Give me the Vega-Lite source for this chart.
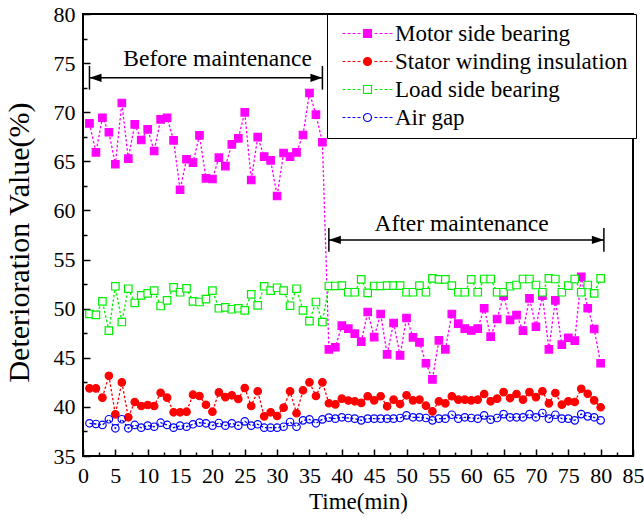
{
"$schema":"https://vega.github.io/schema/vega-lite/v6.json",
"width":550,"height":442,
"autosize":{"type":"none"},
"padding":{"left":83,"top":14,"right":11,"bottom":69},
"background":"white",
"config":{"view":{"stroke":"black","strokeWidth":2},"font":"Liberation Serif"},
"datasets":{
"series":[
{"t":1,"s":"Motor side bearing","v":68.87},{"t":2,"s":"Motor side bearing","v":65.92},{"t":3,"s":"Motor side bearing","v":69.44},{"t":4,"s":"Motor side bearing","v":67.96},{"t":5,"s":"Motor side bearing","v":64.70},{"t":6,"s":"Motor side bearing","v":70.94},{"t":7,"s":"Motor side bearing","v":65.27},{"t":8,"s":"Motor side bearing","v":68.77},{"t":9,"s":"Motor side bearing","v":67.17},{"t":10,"s":"Motor side bearing","v":68.26},
{"t":11,"s":"Motor side bearing","v":66.05},{"t":12,"s":"Motor side bearing","v":69.28},{"t":13,"s":"Motor side bearing","v":69.44},{"t":14,"s":"Motor side bearing","v":67.14},{"t":15,"s":"Motor side bearing","v":62.11},{"t":16,"s":"Motor side bearing","v":65.21},{"t":17,"s":"Motor side bearing","v":64.86},{"t":18,"s":"Motor side bearing","v":67.65},{"t":19,"s":"Motor side bearing","v":63.27},{"t":20,"s":"Motor side bearing","v":63.2},
{"t":21,"s":"Motor side bearing","v":65.37},{"t":22,"s":"Motor side bearing","v":64.52},{"t":23,"s":"Motor side bearing","v":66.73},{"t":24,"s":"Motor side bearing","v":67.34},{"t":25,"s":"Motor side bearing","v":69.99},{"t":26,"s":"Motor side bearing","v":63.1},{"t":27,"s":"Motor side bearing","v":67.46},{"t":28,"s":"Motor side bearing","v":65.47},{"t":29,"s":"Motor side bearing","v":65.1},{"t":30,"s":"Motor side bearing","v":61.47},
{"t":31,"s":"Motor side bearing","v":65.85},{"t":32,"s":"Motor side bearing","v":65.47},{"t":33,"s":"Motor side bearing","v":65.92},{"t":34,"s":"Motor side bearing","v":67.68},{"t":35,"s":"Motor side bearing","v":71.96},{"t":36,"s":"Motor side bearing","v":69.75},{"t":37,"s":"Motor side bearing","v":66.94},{"t":38,"s":"Motor side bearing","v":45.86},{"t":39,"s":"Motor side bearing","v":46.07},{"t":40,"s":"Motor side bearing","v":48.27},
{"t":41,"s":"Motor side bearing","v":47.96},{"t":42,"s":"Motor side bearing","v":47.45},{"t":43,"s":"Motor side bearing","v":46.64},{"t":44,"s":"Motor side bearing","v":49.66},{"t":45,"s":"Motor side bearing","v":47.11},{"t":46,"s":"Motor side bearing","v":49.46},{"t":47,"s":"Motor side bearing","v":45.35},{"t":48,"s":"Motor side bearing","v":48.54},{"t":49,"s":"Motor side bearing","v":45.25},{"t":50,"s":"Motor side bearing","v":49.05},
{"t":51,"s":"Motor side bearing","v":47.08},{"t":52,"s":"Motor side bearing","v":46.57},{"t":53,"s":"Motor side bearing","v":44.44},{"t":54,"s":"Motor side bearing","v":42.81},{"t":55,"s":"Motor side bearing","v":46.78},{"t":56,"s":"Motor side bearing","v":45.86},{"t":57,"s":"Motor side bearing","v":49.46},{"t":58,"s":"Motor side bearing","v":48.47},{"t":59,"s":"Motor side bearing","v":47.96},{"t":60,"s":"Motor side bearing","v":47.78},
{"t":61,"s":"Motor side bearing","v":47.96},{"t":62,"s":"Motor side bearing","v":50.04},{"t":63,"s":"Motor side bearing","v":47.15},{"t":64,"s":"Motor side bearing","v":48.95},{"t":65,"s":"Motor side bearing","v":51.32},{"t":66,"s":"Motor side bearing","v":48.85},{"t":67,"s":"Motor side bearing","v":49.35},{"t":68,"s":"Motor side bearing","v":47.76},{"t":69,"s":"Motor side bearing","v":51.05},{"t":70,"s":"Motor side bearing","v":48.16},
{"t":71,"s":"Motor side bearing","v":51.32},{"t":72,"s":"Motor side bearing","v":45.86},{"t":73,"s":"Motor side bearing","v":50.85},{"t":74,"s":"Motor side bearing","v":46.33},{"t":75,"s":"Motor side bearing","v":47.04},{"t":76,"s":"Motor side bearing","v":46.74},{"t":77,"s":"Motor side bearing","v":53.25},{"t":78,"s":"Motor side bearing","v":50.04},{"t":79,"s":"Motor side bearing","v":47.93},{"t":80,"s":"Motor side bearing","v":44.44},
{"t":1,"s":"Stator winding insulation","v":41.89},{"t":2,"s":"Stator winding insulation","v":41.89},{"t":3,"s":"Stator winding insulation","v":40.94},{"t":4,"s":"Stator winding insulation","v":43.17},{"t":5,"s":"Stator winding insulation","v":39.24},{"t":6,"s":"Stator winding insulation","v":42.5},{"t":7,"s":"Stator winding insulation","v":38.94},{"t":8,"s":"Stator winding insulation","v":40.5},{"t":9,"s":"Stator winding insulation","v":40.09},{"t":10,"s":"Stator winding insulation","v":40.19},
{"t":11,"s":"Stator winding insulation","v":40.09},{"t":12,"s":"Stator winding insulation","v":41.44},{"t":13,"s":"Stator winding insulation","v":40.94},{"t":14,"s":"Stator winding insulation","v":39.45},{"t":15,"s":"Stator winding insulation","v":39.45},{"t":16,"s":"Stator winding insulation","v":39.51},{"t":17,"s":"Stator winding insulation","v":41.24},{"t":18,"s":"Stator winding insulation","v":41.11},{"t":19,"s":"Stator winding insulation","v":40.22},{"t":20,"s":"Stator winding insulation","v":39.51},
{"t":21,"s":"Stator winding insulation","v":41.48},{"t":22,"s":"Stator winding insulation","v":41.0},{"t":23,"s":"Stator winding insulation","v":41.18},{"t":24,"s":"Stator winding insulation","v":40.8},{"t":25,"s":"Stator winding insulation","v":41.92},{"t":26,"s":"Stator winding insulation","v":40.09},{"t":27,"s":"Stator winding insulation","v":41.59},{"t":28,"s":"Stator winding insulation","v":39.04},{"t":29,"s":"Stator winding insulation","v":39.45},{"t":30,"s":"Stator winding insulation","v":39.07},
{"t":31,"s":"Stator winding insulation","v":39.92},{"t":32,"s":"Stator winding insulation","v":41.59},{"t":33,"s":"Stator winding insulation","v":39.35},{"t":34,"s":"Stator winding insulation","v":41.69},{"t":35,"s":"Stator winding insulation","v":42.5},{"t":36,"s":"Stator winding insulation","v":41.11},{"t":37,"s":"Stator winding insulation","v":42.5},{"t":38,"s":"Stator winding insulation","v":40.37},{"t":39,"s":"Stator winding insulation","v":40.26},{"t":40,"s":"Stator winding insulation","v":40.84},
{"t":41,"s":"Stator winding insulation","v":40.65},{"t":42,"s":"Stator winding insulation","v":40.57},{"t":43,"s":"Stator winding insulation","v":40.4},{"t":44,"s":"Stator winding insulation","v":41.08},{"t":45,"s":"Stator winding insulation","v":40.67},{"t":46,"s":"Stator winding insulation","v":41.08},{"t":47,"s":"Stator winding insulation","v":40.06},{"t":48,"s":"Stator winding insulation","v":40.74},{"t":49,"s":"Stator winding insulation","v":40.29},{"t":50,"s":"Stator winding insulation","v":41.18},
{"t":51,"s":"Stator winding insulation","v":40.67},{"t":52,"s":"Stator winding insulation","v":40.74},{"t":53,"s":"Stator winding insulation","v":40.12},{"t":54,"s":"Stator winding insulation","v":39.55},{"t":55,"s":"Stator winding insulation","v":40.57},{"t":56,"s":"Stator winding insulation","v":40.36},{"t":57,"s":"Stator winding insulation","v":41.08},{"t":58,"s":"Stator winding insulation","v":40.74},{"t":59,"s":"Stator winding insulation","v":40.74},{"t":60,"s":"Stator winding insulation","v":40.67},
{"t":61,"s":"Stator winding insulation","v":40.74},{"t":62,"s":"Stator winding insulation","v":41.31},{"t":63,"s":"Stator winding insulation","v":40.57},{"t":64,"s":"Stator winding insulation","v":40.84},{"t":65,"s":"Stator winding insulation","v":41.51},{"t":66,"s":"Stator winding insulation","v":40.9},{"t":67,"s":"Stator winding insulation","v":41.31},{"t":68,"s":"Stator winding insulation","v":40.74},{"t":69,"s":"Stator winding insulation","v":41.51},{"t":70,"s":"Stator winding insulation","v":41.0},
{"t":71,"s":"Stator winding insulation","v":41.59},{"t":72,"s":"Stator winding insulation","v":40.36},{"t":73,"s":"Stator winding insulation","v":41.41},{"t":74,"s":"Stator winding insulation","v":40.23},{"t":75,"s":"Stator winding insulation","v":40.57},{"t":76,"s":"Stator winding insulation","v":40.5},{"t":77,"s":"Stator winding insulation","v":41.85},{"t":78,"s":"Stator winding insulation","v":41.34},{"t":79,"s":"Stator winding insulation","v":40.67},{"t":80,"s":"Stator winding insulation","v":39.96},
{"t":1,"s":"Load side bearing","v":49.46},{"t":2,"s":"Load side bearing","v":49.36},{"t":3,"s":"Load side bearing","v":50.75},{"t":4,"s":"Load side bearing","v":47.76},{"t":5,"s":"Load side bearing","v":52.28},{"t":6,"s":"Load side bearing","v":48.64},{"t":7,"s":"Load side bearing","v":52.03},{"t":8,"s":"Load side bearing","v":50.58},{"t":9,"s":"Load side bearing","v":51.36},{"t":10,"s":"Load side bearing","v":51.56},
{"t":11,"s":"Load side bearing","v":51.83},{"t":12,"s":"Load side bearing","v":50.27},{"t":13,"s":"Load side bearing","v":50.85},{"t":14,"s":"Load side bearing","v":52.17},{"t":15,"s":"Load side bearing","v":51.67},{"t":16,"s":"Load side bearing","v":52.07},{"t":17,"s":"Load side bearing","v":50.75},{"t":18,"s":"Load side bearing","v":50.68},{"t":19,"s":"Load side bearing","v":50.98},{"t":20,"s":"Load side bearing","v":51.83},
{"t":21,"s":"Load side bearing","v":50.04},{"t":22,"s":"Load side bearing","v":50.14},{"t":23,"s":"Load side bearing","v":49.94},{"t":24,"s":"Load side bearing","v":50.04},{"t":25,"s":"Load side bearing","v":49.83},{"t":26,"s":"Load side bearing","v":51.46},{"t":27,"s":"Load side bearing","v":50.34},{"t":28,"s":"Load side bearing","v":52.28},{"t":29,"s":"Load side bearing","v":51.83},{"t":30,"s":"Load side bearing","v":52.13},
{"t":31,"s":"Load side bearing","v":51.83},{"t":32,"s":"Load side bearing","v":50.30},{"t":33,"s":"Load side bearing","v":52.03},{"t":34,"s":"Load side bearing","v":49.83},{"t":35,"s":"Load side bearing","v":48.74},{"t":36,"s":"Load side bearing","v":50.68},{"t":37,"s":"Load side bearing","v":48.64},{"t":38,"s":"Load side bearing","v":52.31},{"t":39,"s":"Load side bearing","v":52.31},{"t":40,"s":"Load side bearing","v":52.34},
{"t":41,"s":"Load side bearing","v":51.67},{"t":42,"s":"Load side bearing","v":51.67},{"t":43,"s":"Load side bearing","v":52.99},{"t":44,"s":"Load side bearing","v":51.6},{"t":45,"s":"Load side bearing","v":52.31},{"t":46,"s":"Load side bearing","v":52.31},{"t":47,"s":"Load side bearing","v":52.34},{"t":48,"s":"Load side bearing","v":52.34},{"t":49,"s":"Load side bearing","v":52.34},{"t":50,"s":"Load side bearing","v":51.67},
{"t":51,"s":"Load side bearing","v":51.67},{"t":52,"s":"Load side bearing","v":52.34},{"t":53,"s":"Load side bearing","v":51.67},{"t":54,"s":"Load side bearing","v":53.09},{"t":55,"s":"Load side bearing","v":52.99},{"t":56,"s":"Load side bearing","v":52.99},{"t":57,"s":"Load side bearing","v":52.34},{"t":58,"s":"Load side bearing","v":51.67},{"t":59,"s":"Load side bearing","v":51.67},{"t":60,"s":"Load side bearing","v":52.99},
{"t":61,"s":"Load side bearing","v":51.67},{"t":62,"s":"Load side bearing","v":53.02},{"t":63,"s":"Load side bearing","v":53.02},{"t":64,"s":"Load side bearing","v":51.67},{"t":65,"s":"Load side bearing","v":51.67},{"t":66,"s":"Load side bearing","v":52.28},{"t":67,"s":"Load side bearing","v":52.41},{"t":68,"s":"Load side bearing","v":53.02},{"t":69,"s":"Load side bearing","v":53.02},{"t":70,"s":"Load side bearing","v":52.41},
{"t":71,"s":"Load side bearing","v":51.67},{"t":72,"s":"Load side bearing","v":53.09},{"t":73,"s":"Load side bearing","v":53.02},{"t":74,"s":"Load side bearing","v":51.67},{"t":75,"s":"Load side bearing","v":52.34},{"t":76,"s":"Load side bearing","v":53.02},{"t":77,"s":"Load side bearing","v":51.67},{"t":78,"s":"Load side bearing","v":52.41},{"t":79,"s":"Load side bearing","v":51.56},{"t":80,"s":"Load side bearing","v":53.09},
{"t":1,"s":"Air gap","v":38.33},{"t":2,"s":"Air gap","v":38.26},{"t":3,"s":"Air gap","v":38.16},{"t":4,"s":"Air gap","v":38.74},{"t":5,"s":"Air gap","v":37.82},{"t":6,"s":"Air gap","v":38.74},{"t":7,"s":"Air gap","v":37.82},{"t":8,"s":"Air gap","v":38.16},{"t":9,"s":"Air gap","v":37.88},{"t":10,"s":"Air gap","v":38.09},
{"t":11,"s":"Air gap","v":37.98},{"t":12,"s":"Air gap","v":38.39},{"t":13,"s":"Air gap","v":38.16},{"t":14,"s":"Air gap","v":37.88},{"t":15,"s":"Air gap","v":38.09},{"t":16,"s":"Air gap","v":37.98},{"t":17,"s":"Air gap","v":38.23},{"t":18,"s":"Air gap","v":38.39},{"t":19,"s":"Air gap","v":38.33},{"t":20,"s":"Air gap","v":38.09},
{"t":21,"s":"Air gap","v":38.36},{"t":22,"s":"Air gap","v":38.09},{"t":23,"s":"Air gap","v":38.33},{"t":24,"s":"Air gap","v":38.09},{"t":25,"s":"Air gap","v":38.53},{"t":26,"s":"Air gap","v":38.09},{"t":27,"s":"Air gap","v":38.23},{"t":28,"s":"Air gap","v":37.88},{"t":29,"s":"Air gap","v":37.88},{"t":30,"s":"Air gap","v":37.88},
{"t":31,"s":"Air gap","v":37.98},{"t":32,"s":"Air gap","v":38.46},{"t":33,"s":"Air gap","v":37.98},{"t":34,"s":"Air gap","v":38.63},{"t":35,"s":"Air gap","v":38.73},{"t":36,"s":"Air gap","v":38.33},{"t":37,"s":"Air gap","v":38.73},{"t":38,"s":"Air gap","v":38.9},{"t":39,"s":"Air gap","v":38.8},{"t":40,"s":"Air gap","v":38.94},
{"t":41,"s":"Air gap","v":38.87},{"t":42,"s":"Air gap","v":38.8},{"t":43,"s":"Air gap","v":38.63},{"t":44,"s":"Air gap","v":38.8},{"t":45,"s":"Air gap","v":38.8},{"t":46,"s":"Air gap","v":38.8},{"t":47,"s":"Air gap","v":38.8},{"t":48,"s":"Air gap","v":38.8},{"t":49,"s":"Air gap","v":38.87},{"t":50,"s":"Air gap","v":39.14},
{"t":51,"s":"Air gap","v":38.94},{"t":52,"s":"Air gap","v":38.94},{"t":53,"s":"Air gap","v":38.87},{"t":54,"s":"Air gap","v":38.63},{"t":55,"s":"Air gap","v":38.8},{"t":56,"s":"Air gap","v":38.8},{"t":57,"s":"Air gap","v":39.2},{"t":58,"s":"Air gap","v":38.8},{"t":59,"s":"Air gap","v":38.94},{"t":60,"s":"Air gap","v":38.87},
{"t":61,"s":"Air gap","v":38.8},{"t":62,"s":"Air gap","v":39.14},{"t":63,"s":"Air gap","v":38.7},{"t":64,"s":"Air gap","v":38.87},{"t":65,"s":"Air gap","v":39.27},{"t":66,"s":"Air gap","v":38.94},{"t":67,"s":"Air gap","v":38.94},{"t":68,"s":"Air gap","v":38.94},{"t":69,"s":"Air gap","v":39.27},{"t":70,"s":"Air gap","v":38.94},
{"t":71,"s":"Air gap","v":39.38},{"t":72,"s":"Air gap","v":38.8},{"t":73,"s":"Air gap","v":39.2},{"t":74,"s":"Air gap","v":38.8},{"t":75,"s":"Air gap","v":38.8},{"t":76,"s":"Air gap","v":38.63},{"t":77,"s":"Air gap","v":39.27},{"t":78,"s":"Air gap","v":39.04},{"t":79,"s":"Air gap","v":38.94},{"t":80,"s":"Air gap","v":38.63}
],
"notes":[{"label":"Before maintenance","x":20.8,"y":75.4},{"label":"After maintenance","x":58.5,"y":58.6}],
"arrows":[{"x1":1,"x2":37,"y":73.5,"ylo":72.3,"yhi":74.7},{"x1":38,"x2":80.5,"y":57.0,"ylo":55.8,"yhi":58.2}]
},
"layer":[
{"data":{"name":"series"},
 "mark":{"type":"line","strokeDash":[2.5,2],"strokeWidth":1.3},
 "encoding":{
  "x":{"field":"t","type":"quantitative","scale":{"domain":[0,85],"nice":false,"zero":false},
   "axis":{"orient":"bottom","values":[0,5,10,15,20,25,30,35,40,45,50,55,60,65,70,75,80,85],"format":"d","tickSize":-7,"tickWidth":1.5,"tickColor":"black","domain":false,"grid":false,"labelFont":"Liberation Serif","labelFontSize":22,"labelColor":"black","labelPadding":16,"labelFlush":false,"labelOverlap":false,"title":"Time(min)","titleFont":"Liberation Serif","titleFontSize":23,"titleFontWeight":"normal","titleColor":"black","titlePadding":4}},
  "y":{"field":"v","type":"quantitative","scale":{"domain":[35,80],"nice":false,"zero":false},
   "axis":{"orient":"left","values":[35,40,45,50,55,60,65,70,75,80],"format":"d","tickSize":-7,"tickWidth":1.5,"tickColor":"black","domain":false,"grid":false,"labelFont":"Liberation Serif","labelFontSize":22,"labelColor":"black","labelPadding":15,"labelFlush":false,"labelOverlap":false,"title":"Deterioration Value(%)","titleFont":"Liberation Serif","titleFontSize":30,"titleFontWeight":"normal","titleColor":"black","titlePadding":19,"titleY":228}},
  "stroke":{"field":"s","type":"nominal","scale":{"domain":["Motor side bearing","Stator winding insulation","Load side bearing","Air gap"],"range":["#FF00FF","#FF0000","#00EE00","#0000FF"]},"legend":null}
 }},
{"data":{"name":"series"},
 "mark":{"type":"point","size":56,"strokeWidth":1.2,"opacity":1},
 "encoding":{
  "x":{"field":"t","type":"quantitative","scale":{"domain":[0,85],"nice":false,"zero":false},
   "axis":{"orient":"bottom","values":[2.5,7.5,12.5,17.5,22.5,27.5,32.5,37.5,42.5,47.5,52.5,57.5,62.5,67.5,72.5,77.5,82.5],"tickSize":-4,"tickWidth":1.5,"tickColor":"black","labels":false,"domain":false,"grid":false,"title":null}},
  "y":{"field":"v","type":"quantitative","scale":{"domain":[35,80],"nice":false,"zero":false},
   "axis":{"orient":"left","values":[37.5,42.5,47.5,52.5,57.5,62.5,67.5,72.5,77.5],"tickSize":-4,"tickWidth":1.5,"tickColor":"black","labels":false,"domain":false,"grid":false,"title":null}},
  "shape":{"field":"s","type":"nominal","scale":{"domain":["Motor side bearing","Stator winding insulation","Load side bearing","Air gap"],"range":["square","circle","square","circle"]},"legend":null},
  "fill":{"field":"s","type":"nominal","scale":{"domain":["Motor side bearing","Stator winding insulation","Load side bearing","Air gap"],"range":["#FF00FF","#FF0000","#FFFFFF","transparent"]},"legend":null},
  "stroke":{"field":"s","type":"nominal","scale":{"domain":["Motor side bearing","Stator winding insulation","Load side bearing","Air gap"],"range":["#FF00FF","#FF0000","#00EE00","#0000FF"]},"legend":null}
 }},
{"data":{"name":"series"},
 "transform":[{"filter":"datum.t == 1"}],
 "mark":{"type":"point","size":64,"strokeWidth":1.2,"opacity":0},
 "encoding":{
  "x":{"field":"t","type":"quantitative","scale":{"domain":[0,85],"nice":false,"zero":false},"axis":null},
  "y":{"field":"v","type":"quantitative","scale":{"domain":[35,80],"nice":false,"zero":false},"axis":null},
  "shape":{"field":"s","type":"nominal","scale":{"domain":["Motor side bearing","Stator winding insulation","Load side bearing","Air gap"],"range":[
    "M-1,0H-0.25M0.25,0H1M1.5,0H2.25M2.75,0H3.5M7,0H7.75M8.25,0H9M9.5,0H10.25M10.75,0H11.5M4.25,-1H6.25V1H4.25Z",
    "M-1,0H-0.25M0.25,0H1M1.5,0H2.25M2.75,0H3.5M7,0H7.75M8.25,0H9M9.5,0H10.25M10.75,0H11.5M6.25,0A1,1,0,1,1,4.25,0A1,1,0,1,1,6.25,0Z",
    "M-1,0H-0.25M0.25,0H1M1.5,0H2.25M2.75,0H3.5M7,0H7.75M8.25,0H9M9.5,0H10.25M10.75,0H11.5M4.25,-1H6.25V1H4.25Z",
    "M-1,0H-0.25M0.25,0H1M1.5,0H2.25M2.75,0H3.5M7,0H7.75M8.25,0H9M9.5,0H10.25M10.75,0H11.5M6.25,0A1,1,0,1,1,4.25,0A1,1,0,1,1,6.25,0Z"]},
   "legend":{"title":null,"orient":"none","legendX":244,"legendY":0,"padding":8,"strokeColor":"black","fillColor":"white","labelFont":"Liberation Serif","labelFontSize":23,"labelColor":"black","labelLimit":0,"labelOffset":37,"rowPadding":4,"symbolSize":64,"symbolOffset":0,"symbolStrokeWidth":1.2,"symbolOpacity":1}},
  "fill":{"field":"s","type":"nominal","scale":{"domain":["Motor side bearing","Stator winding insulation","Load side bearing","Air gap"],"range":["#FF00FF","#FF0000","#FFFFFF","transparent"]},
   "legend":{"title":null,"orient":"none","legendX":244,"legendY":0,"padding":8,"strokeColor":"black","fillColor":"white","labelFont":"Liberation Serif","labelFontSize":23,"labelColor":"black","labelLimit":0,"labelOffset":37,"rowPadding":4,"symbolSize":64,"symbolOffset":0,"symbolStrokeWidth":1.2,"symbolOpacity":1}},
  "stroke":{"field":"s","type":"nominal","scale":{"domain":["Motor side bearing","Stator winding insulation","Load side bearing","Air gap"],"range":["#FF00FF","#FF0000","#00EE00","#0000FF"]},
   "legend":{"title":null,"orient":"none","legendX":244,"legendY":0,"padding":8,"strokeColor":"black","fillColor":"white","labelFont":"Liberation Serif","labelFontSize":23,"labelColor":"black","labelLimit":0,"labelOffset":37,"rowPadding":4,"symbolSize":64,"symbolOffset":0,"symbolStrokeWidth":1.2,"symbolOpacity":1}}
 }},
{"data":{"name":"arrows"},
 "mark":{"type":"rule","color":"black","strokeWidth":1.5},
 "encoding":{
  "x":{"field":"x1","type":"quantitative","scale":{"domain":[0,85],"nice":false,"zero":false},"axis":null},
  "x2":{"field":"x2"},
  "y":{"field":"y","type":"quantitative","scale":{"domain":[35,80],"nice":false,"zero":false},"axis":null}
 }},
{"data":{"name":"arrows"},
 "mark":{"type":"rule","color":"black","strokeWidth":1.5},
 "encoding":{
  "x":{"field":"x1","type":"quantitative","scale":{"domain":[0,85],"nice":false,"zero":false},"axis":null},
  "y":{"field":"ylo","type":"quantitative","scale":{"domain":[35,80],"nice":false,"zero":false},"axis":null},
  "y2":{"field":"yhi"}
 }},
{"data":{"name":"arrows"},
 "mark":{"type":"rule","color":"black","strokeWidth":1.5},
 "encoding":{
  "x":{"field":"x2","type":"quantitative","scale":{"domain":[0,85],"nice":false,"zero":false},"axis":null},
  "y":{"field":"ylo","type":"quantitative","scale":{"domain":[35,80],"nice":false,"zero":false},"axis":null},
  "y2":{"field":"yhi"}
 }},
{"data":{"name":"arrows"},
 "mark":{"type":"point","shape":"M0,0L2,-0.7L2,0.7Z","size":144,"filled":true,"color":"black","opacity":1,"strokeWidth":0},
 "encoding":{
  "x":{"field":"x1","type":"quantitative","scale":{"domain":[0,85],"nice":false,"zero":false},"axis":null},
  "y":{"field":"y","type":"quantitative","scale":{"domain":[35,80],"nice":false,"zero":false},"axis":null}
 }},
{"data":{"name":"arrows"},
 "mark":{"type":"point","shape":"M0,0L-2,-0.7L-2,0.7Z","size":144,"filled":true,"color":"black","opacity":1,"strokeWidth":0},
 "encoding":{
  "x":{"field":"x2","type":"quantitative","scale":{"domain":[0,85],"nice":false,"zero":false},"axis":null},
  "y":{"field":"y","type":"quantitative","scale":{"domain":[35,80],"nice":false,"zero":false},"axis":null}
 }},
{"data":{"name":"notes"},
 "mark":{"type":"text","font":"Liberation Serif","fontSize":23.5,"color":"black","align":"center","baseline":"middle"},
 "encoding":{
  "x":{"field":"x","type":"quantitative","scale":{"domain":[0,85],"nice":false,"zero":false},"axis":null},
  "y":{"field":"y","type":"quantitative","scale":{"domain":[35,80],"nice":false,"zero":false},"axis":null},
  "text":{"field":"label","type":"nominal"}
 }}
],
"resolve":{"axis":{"x":"independent","y":"independent"},"scale":{"shape":"independent","fill":"independent","stroke":"independent"}}
}
